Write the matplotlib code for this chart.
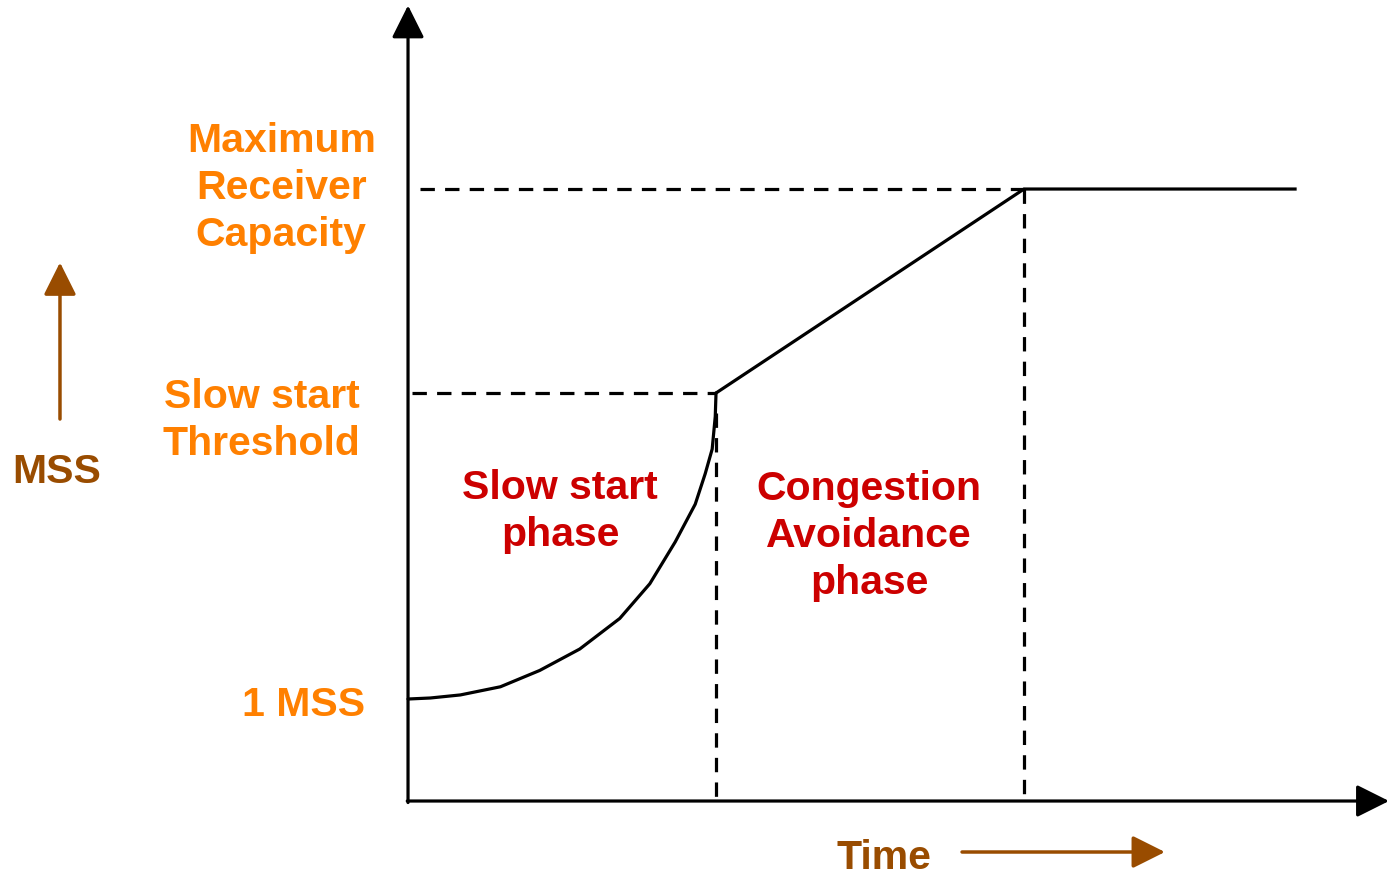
import matplotlib
matplotlib.use("Agg")
import matplotlib.pyplot as plt

plt.rcParams['font.family'] = ['Liberation Sans', 'DejaVu Sans']

# slow start curve (time, window in MSS)
t_slow = [0.0, 0.29, 0.68, 1.20, 1.71, 2.23, 2.75, 3.14, 3.47, 3.73,
          3.86, 3.95, 3.99, 4.0]
w_slow = [1.0, 1.01, 1.04, 1.12, 1.28, 1.49, 1.79, 2.13, 2.54, 2.91,
          3.21, 3.45, 3.77, 4.0]

# congestion avoidance and plateau
t_lin = [4.0, 8.0, 11.52]
w_lin = [4.0, 6.0, 6.0]

ssthresh = 4.0
max_cap = 6.0
t_thresh = 4.0
t_max = 8.0

orange = '#FF8000'
red = '#CC0000'
brown = '#994C00'

fig = plt.figure(figsize=(13.89, 8.78), dpi=100)
ax = fig.add_axes([0, 0, 1, 1])
ax.set_xlim(-5.299, 12.74)
ax.set_ylim(-0.745, 7.863)
ax.axis('off')

lw = 2.3
dash = (4.5, 3.2)
head = '-|>,head_length=2.0,head_width=1.0'

# axes with arrows
ax.annotate('', xy=(0, 7.80), xytext=(0, -0.015),
            arrowprops=dict(arrowstyle=head, color='black', lw=lw, shrinkA=0, shrinkB=0))
ax.annotate('', xy=(12.74, 0), xytext=(-0.01, 0),
            arrowprops=dict(arrowstyle=head, color='black', lw=lw, shrinkA=0, shrinkB=0))

# dashed guides
ax.plot([0.15, t_max], [max_cap, max_cap], color='black', lw=lw, dashes=dash)
ax.plot([0.05, t_thresh], [ssthresh, ssthresh], color='black', lw=lw, dashes=dash)
ax.plot([t_thresh, t_thresh], [ssthresh - 0.2, 0], color='black', lw=lw, dashes=dash)
ax.plot([t_max, t_max], [max_cap, 0], color='black', lw=lw, dashes=dash)

# window curve
ax.plot(t_slow, w_slow, color='black', lw=lw, solid_capstyle='round', solid_joinstyle='round')
ax.plot(t_lin, w_lin, color='black', lw=lw, solid_joinstyle='miter')

fs = 29.5
kw = dict(fontsize=fs, fontweight='bold', linespacing=1.3)
ax.text(-0.42, 6.02, 'Maximum\nReceiver\nCapacity', color=orange, ha='right', va='center', multialignment='center', **kw)
ax.text(-0.62, 3.745, 'Slow start\nThreshold', color=orange, ha='right', va='center', multialignment='center', **kw)
ax.text(-0.56, 0.95, '1 MSS', color=orange, ha='right', va='center', **kw)

ax.text(1.974, 2.853, 'Slow start\nphase', color=red, ha='center', va='center', **kw)
ax.text(5.987, 2.608, 'Congestion\nAvoidance\nphase', color=red, ha='center', va='center', **kw)

ax.text(-4.56, 3.235, 'MSS', color=brown, ha='center', va='center', **kw)
ax.annotate('', xy=(-4.52, 5.28), xytext=(-4.52, 3.745),
            arrowprops=dict(arrowstyle=head, color=brown, lw=2.5, shrinkA=0, shrinkB=0))
ax.text(6.18, -0.55, 'Time', color=brown, ha='center', va='center', **kw)
ax.annotate('', xy=(9.83, -0.5), xytext=(7.195, -0.5),
            arrowprops=dict(arrowstyle=head, color=brown, lw=2.5, shrinkA=0, shrinkB=0))

fig.savefig('out.png', dpi=100)
